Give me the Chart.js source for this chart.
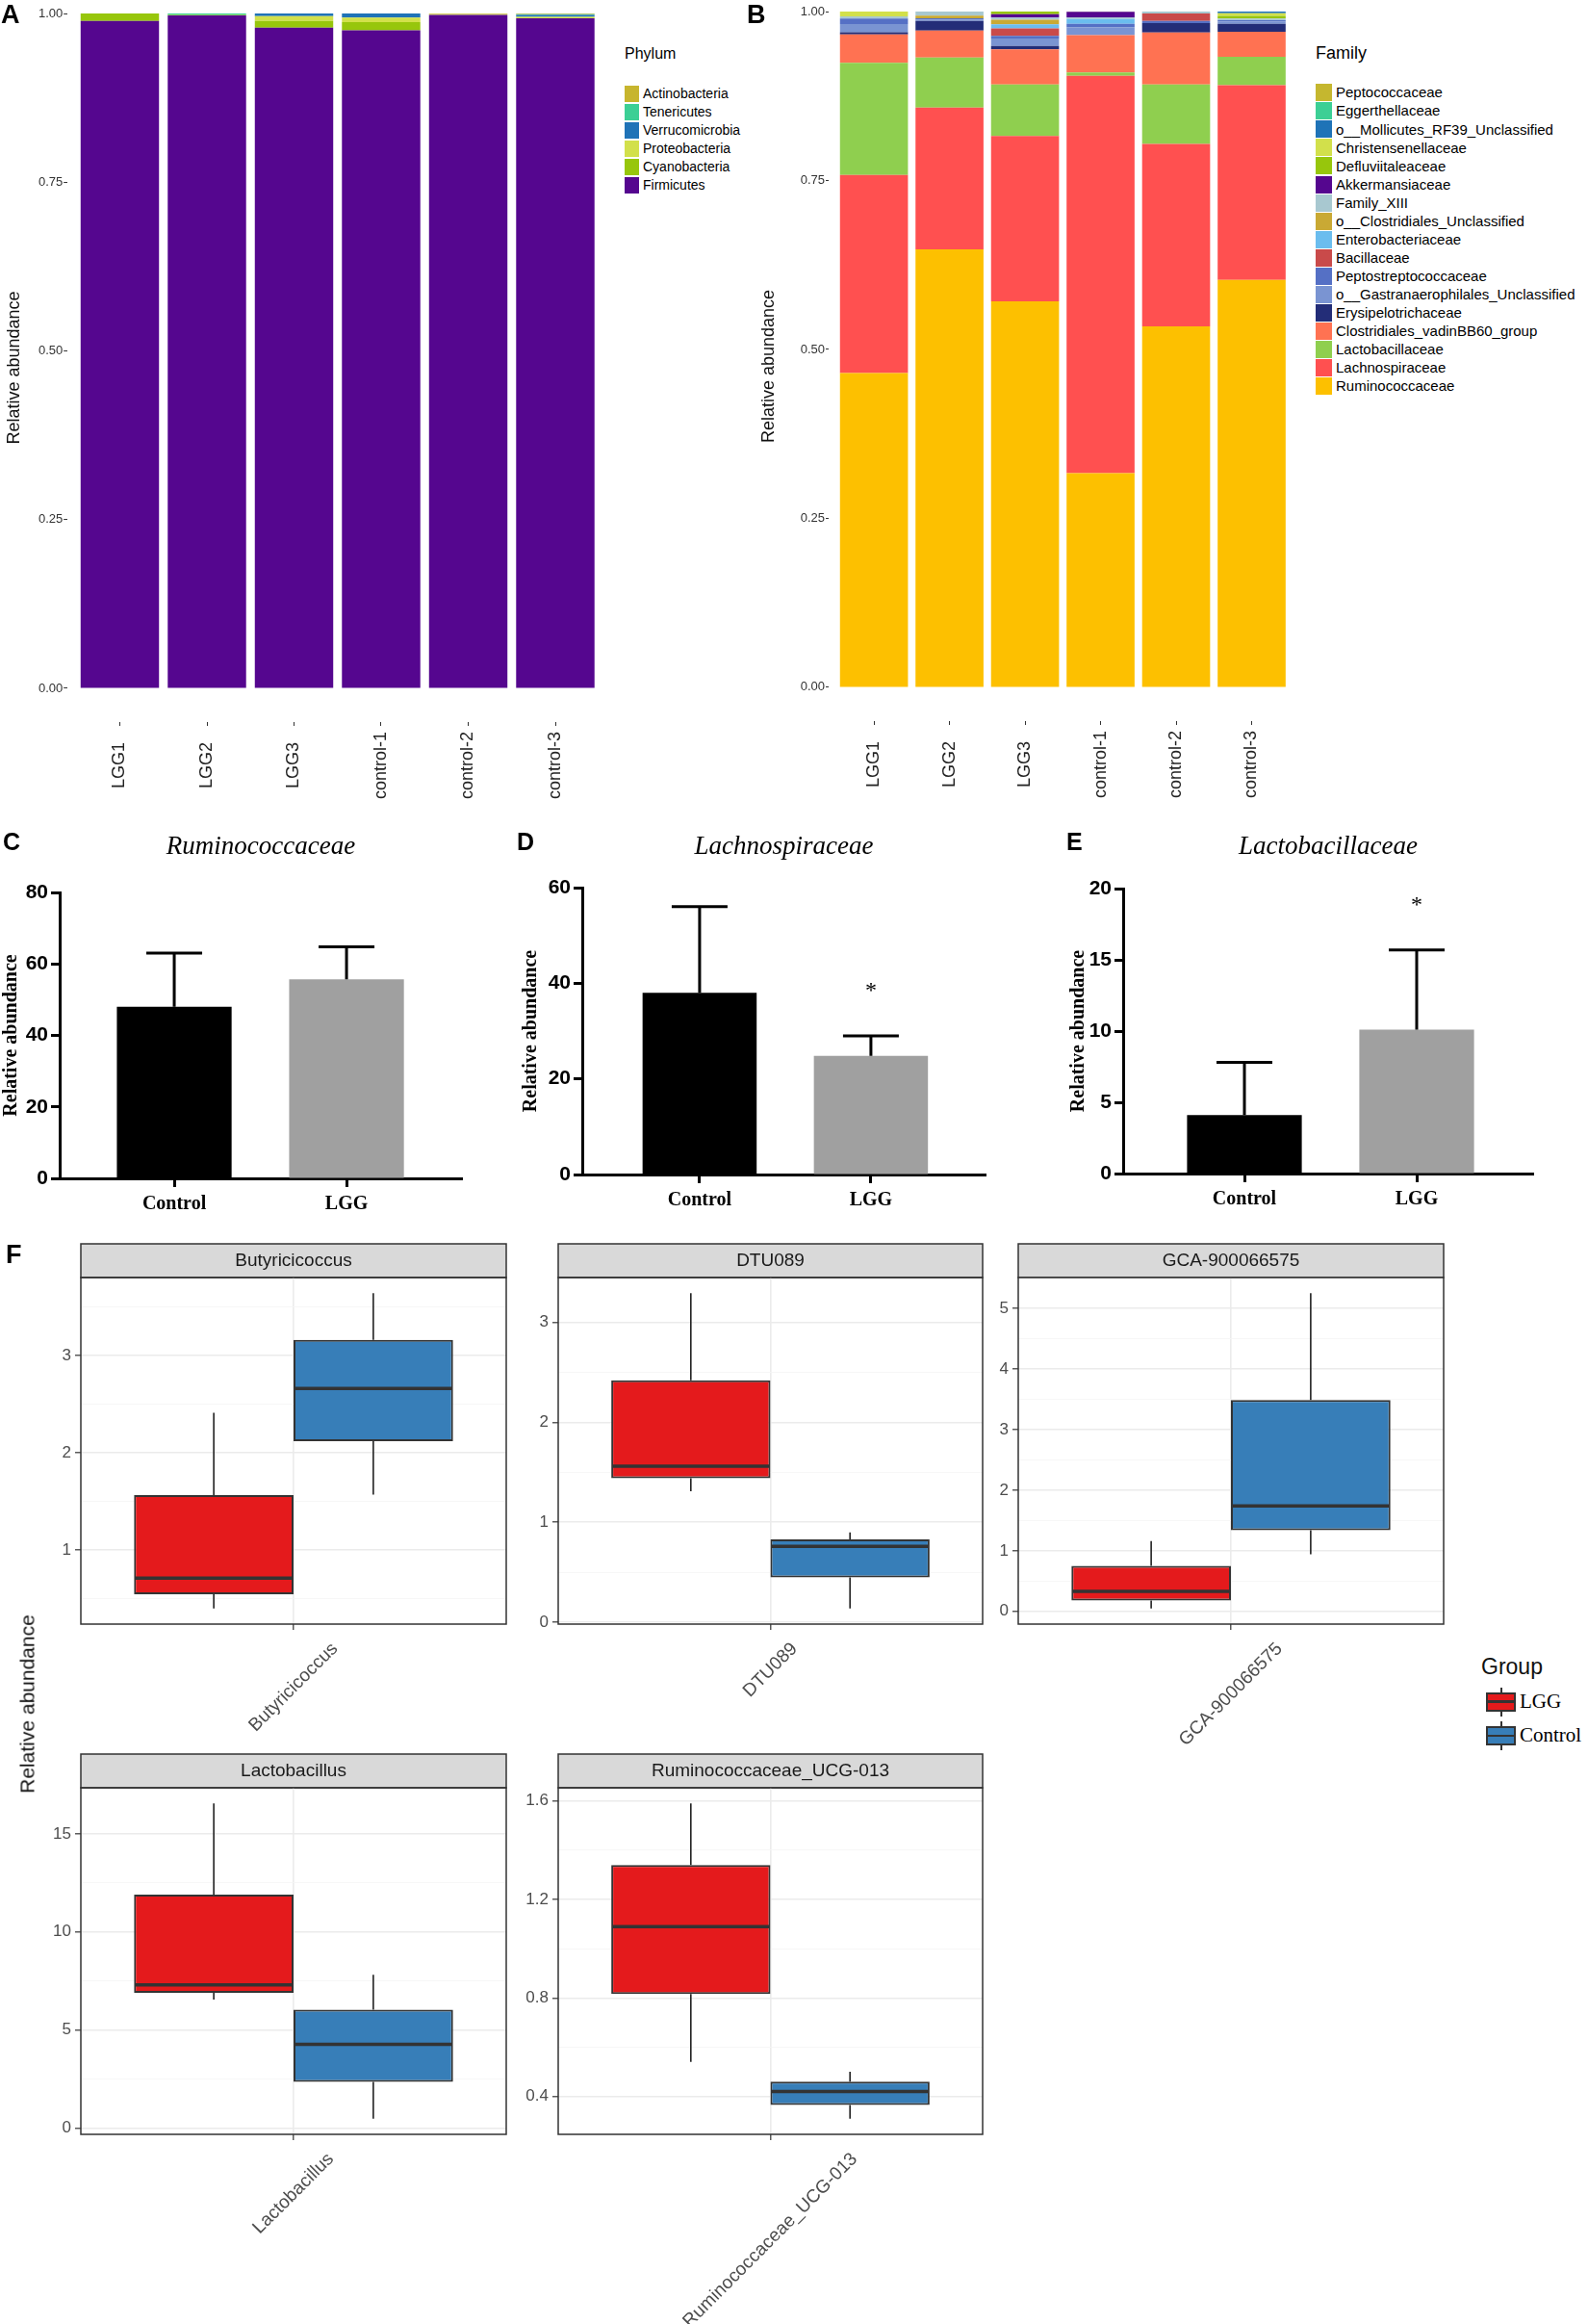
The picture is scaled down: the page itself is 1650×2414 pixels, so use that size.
<!DOCTYPE html>
<html>
<head>
<meta charset="utf-8">
<script src="https://cdn.jsdelivr.net/npm/chart.js@4.4.1/dist/chart.umd.min.js"></script>
<style>
html, body { margin: 0; padding: 0; background: #fff; }
body { width: 1650px; height: 2414px; position: relative; overflow: hidden; font-family: 'Liberation Sans', Arial, sans-serif; }
canvas { position: absolute; }
.t { position: absolute; white-space: nowrap; line-height: 1; color: #000; }
.b { position: absolute; box-sizing: border-box; }
</style>
</head>
<body>
<script>
// ---------- A: phylum composition ----------
const samples = ['LGG1', 'LGG2', 'LGG3', 'control-1', 'control-2', 'control-3'];
const abundTicks = [0, 0.25, 0.5, 0.75, 1];

// stack order bottom -> top
const phyla = ['Firmicutes', 'Cyanobacteria', 'Proteobacteria', 'Verrucomicrobia', 'Tenericutes', 'Actinobacteria'];
const phylumColors = ['#55068f', '#97c60c', '#d2e04b', '#1f73b7', '#3ccf95', '#c7b52e'];
const firmicutes      = [0.989, 0.997, 0.979, 0.975, 0.998, 0.993];
const cyanobacteria   = [0.011, 0.001, 0.010, 0.012, 0,     0];
const proteobacteria  = [0,     0,     0.007, 0.007, 0.001, 0.002];
const verrucomicrobia = [0,     0,     0.004, 0.006, 0,     0.003];
const tenericutes     = [0,     0.002, 0,     0,     0,     0.001];
const actinobacteria  = [0,     0,     0,     0,     0.001, 0.001];

// ---------- B: family composition ----------
const families = ['Ruminococcaceae', 'Lachnospiraceae', 'Lactobacillaceae', 'Clostridiales_vadinBB60_group',
  'Erysipelotrichaceae', 'o__Gastranaerophilales_Unclassified', 'Peptostreptococcaceae', 'Bacillaceae',
  'Enterobacteriaceae', 'o__Clostridiales_Unclassified', 'Family_XIII', 'Akkermansiaceae',
  'Defluviitaleaceae', 'Christensenellaceae', 'o__Mollicutes_RF39_Unclassified', 'Eggerthellaceae', 'Peptococcaceae'];
const familyColors = ['#fdc000', '#ff5050', '#8fcf4f', '#ff7252', '#232d78', '#7a94d2', '#5570c5', '#c94a4a',
  '#6bbdee', '#c9a934', '#a8c8d0', '#55068f', '#97c60c', '#d2e04b', '#1f73b7', '#3ccf95', '#c5b72f'];
const rumino     = [0.465, 0.648, 0.571, 0.317, 0.534, 0.603];
const lachno     = [0.293, 0.210, 0.245, 0.588, 0.270, 0.288];
const lacto      = [0.166, 0.074, 0.076, 0.005, 0.088, 0.042];
const vadin      = [0.042, 0.040, 0.052, 0.055, 0.077, 0.037];
const erysip     = [0.0035, 0.014, 0.005, 0,   0.014, 0.012];
const gastran    = [0.012, 0.002, 0.011, 0.012, 0,     0.003];
const peptostrep = [0.008, 0.002, 0.004, 0.005, 0.003, 0.002];
const bacill     = [0,     0,     0.011, 0,     0.011, 0];
const entero     = [0,     0,     0.006, 0.007, 0,     0];
const clostUncl  = [0,     0.004, 0.007, 0,     0,     0];
const famXIII    = [0.0035, 0.006, 0.003, 0.0025, 0.004, 0.0025];
const akker      = [0,     0,     0.005, 0.008, 0,     0];
const defluv     = [0,     0,     0.004, 0,     0,     0.004];
const christ     = [0.007, 0,     0.0015, 0.001, 0,    0.004];
const mollic     = [0,     0,     0,     0,     0,     0.003];
const egger      = [0,     0,     0,     0,     0,     0];
const peptococ   = [0,     0.001, 0,     0,     0,     0];

// ---------- C-E: mean + SD ----------
const groups = ['Control', 'LGG'];
const ruminoMean = [48, 55.7], ruminoSD = [15, 9.1];
const lachnoMean = [38, 24.8], lachnoSD = [18, 4.2];
const lactoMean  = [4.1, 10.1], lactoSD = [3.7, 5.6];
const lachnoSig = ['', '*'];
const lactoSig  = ['', '*'];

// ---------- F: boxplots [lower whisker, Q1, median, Q3, upper whisker] ----------
const genera = ['Butyricicoccus', 'DTU089', 'GCA-900066575', 'Lactobacillus', 'Ruminococcaceae_UCG-013'];
const lggBoxes = [
  [0.40, 0.545, 0.71, 1.565, 2.41],
  [1.31, 1.44, 1.56, 2.42, 3.29],
  [0.05, 0.18, 0.33, 0.75, 1.16],
  [6.55, 6.9, 7.3, 11.9, 16.55],
  [0.54, 0.816, 1.09, 1.34, 1.59]
];
const controlBoxes = [
  [1.57, 2.12, 2.66, 3.16, 3.64],
  [0.14, 0.45, 0.76, 0.83, 0.90],
  [0.94, 1.34, 1.74, 3.49, 5.25],
  [0.48, 2.35, 4.27, 6.04, 7.82],
  [0.31, 0.365, 0.42, 0.46, 0.50]
];
const generaTicks = [[1, 2, 3], [0, 1, 2, 3], [0, 1, 2, 3, 4, 5], [0, 5, 10, 15], [0.4, 0.8, 1.2, 1.6]];

const SANS = "'Liberation Sans', Arial, sans-serif";
const SERIF = "'Liberation Serif', 'Times New Roman', serif";
Chart.defaults.font.family = SANS;
Chart.defaults.animation = false;
Chart.defaults.events = [];
Chart.defaults.plugins.legend.display = false;
Chart.defaults.plugins.tooltip.enabled = false;

function makeCanvas(b) {
  const c = document.createElement('canvas');
  c.width = b.w; c.height = b.h;
  c.style.left = b.x + 'px'; c.style.top = b.y + 'px';
  c.style.width = b.w + 'px'; c.style.height = b.h + 'px';
  document.body.appendChild(c);
  return c;
}

function addText(str, x, baseline, size, opts) {
  opts = opts || {};
  const d = document.createElement('div');
  d.className = 't';
  d.textContent = str;
  d.style.left = x + 'px';
  d.style.top = (baseline - 0.8465 * size) + 'px';
  d.style.fontSize = size + 'px';
  if (opts.weight) d.style.fontWeight = opts.weight;
  if (opts.family) d.style.fontFamily = opts.family;
  if (opts.color) d.style.color = opts.color;
  document.body.appendChild(d);
  return d;
}

function addBox(x, y, w, h, color) {
  const d = document.createElement('div');
  d.className = 'b';
  d.style.left = x + 'px'; d.style.top = y + 'px';
  d.style.width = w + 'px'; d.style.height = h + 'px';
  d.style.background = color;
  document.body.appendChild(d);
  return d;
}

// rotated sample names under A and B
const sampleLabels = {
  id: 'sampleLabels',
  afterDraw(chart) {
    const {ctx, chartArea} = chart;
    const sx = chart.scales.x;
    ctx.save();
    ctx.font = '18px ' + SANS;
    ctx.fillStyle = '#222';
    ctx.textAlign = 'center';
    ctx.textBaseline = 'middle';
    samples.forEach((s, i) => {
      ctx.save();
      ctx.translate(sx.getPixelForValue(i + 1), chartArea.bottom + 45);
      ctx.rotate(-Math.PI / 2);
      ctx.fillText(s, 0, 0);
      ctx.restore();
    });
    ctx.restore();
  }
};

function stackedPanel(box, area, titlePad, tickLen, series, names, colors) {
  return new Chart(makeCanvas(box), {
    type: 'bar',
    data: {
      datasets: series.map((vals, k) => ({
        label: names[k],
        data: vals.map((v, i) => ({x: i + 1, y: v})),
        backgroundColor: colors[k],
        borderWidth: 0,
        barPercentage: 0.9,
        categoryPercentage: 1
      }))
    },
    options: {
      responsive: false,
      devicePixelRatio: 1,
      layout: {padding: {left: 0, top: area.t - box.y, right: box.x + box.w - area.r, bottom: 0}},
      scales: {
        x: {
          type: 'linear', min: 0.4, max: 6.6, stacked: true, offset: false,
          afterBuildTicks: s => { s.ticks = samples.map((_, i) => ({value: i + 1})); },
          afterFit: s => { s.height = box.y + box.h - area.b; },
          ticks: {display: false},
          grid: {offset: false, drawOnChartArea: false, tickLength: 4, tickColor: '#333', tickWidth: 1},
          border: {display: false}
        },
        y: {
          stacked: true, min: -0.05, max: 1,
          afterBuildTicks: s => { s.ticks = abundTicks.map(v => ({value: v})); },
          afterFit: s => { s.width = area.l - box.x; },
          ticks: {callback: v => v.toFixed(2), font: {size: 13}, color: '#333', padding: 1},
          grid: {drawOnChartArea: false, tickLength: tickLen, tickColor: '#333', tickWidth: 1},
          border: {display: false},
          title: {display: true, text: 'Relative abundance', font: {size: 18}, color: '#111',
                  padding: {top: titlePad, bottom: 0}}
        }
      }
    },
    plugins: [sampleLabels]
  });
}

stackedPanel({x: 0, y: 0, w: 645, h: 850}, {l: 70.2, t: 14, r: 631.3, b: 750}, 4, 4,
  [firmicutes, cyanobacteria, proteobacteria, verrucomicrobia, tenericutes, actinobacteria], phyla, phylumColors);

stackedPanel({x: 780, y: 0, w: 580, h: 850}, {l: 861, t: 12, r: 1347.6, b: 749}, 8, 3,
  [rumino, lachno, lacto, vadin, erysip, gastran, peptostrep, bacill, entero, clostUncl, famXIII,
   akker, defluv, christ, mollic, egger, peptococ], families, familyColors);

// legends A and B
addText('Phylum', 649, 61.5, 16);
phyla.slice().reverse().forEach((p, i) => {
  const cy = 97.3 + 19 * i;
  addBox(649, cy - 8, 15, 17, phylumColors[phyla.length - 1 - i]);
  addText(p, 668, cy + 5, 14);
});
addText('Family', 1367, 61, 18);
families.slice().reverse().forEach((f, i) => {
  const cy = 95.7 + 19.06 * i;
  addBox(1367, cy - 8.5, 17, 18, familyColors[families.length - 1 - i]);
  addText(f, 1388, cy + 5.4, 15);
});

// ---------- C-E ----------
function errorBars(means, sds, sig) {
  return {
    id: 'errorBars',
    afterDatasetsDraw(chart) {
      const {ctx} = chart;
      const ys = chart.scales.y;
      ctx.save();
      ctx.strokeStyle = '#000';
      ctx.lineWidth = 3;
      chart.getDatasetMeta(0).data.forEach((bar, i) => {
        const yb = ys.getPixelForValue(means[i]);
        const yt = ys.getPixelForValue(means[i] + sds[i]);
        ctx.beginPath();
        ctx.moveTo(bar.x, yb); ctx.lineTo(bar.x, yt);
        ctx.moveTo(bar.x - 29, yt); ctx.lineTo(bar.x + 29, yt);
        ctx.stroke();
        if (sig && sig[i]) {
          ctx.font = '24px ' + SERIF;
          ctx.fillStyle = '#000';
          ctx.textAlign = 'center';
          ctx.textBaseline = 'alphabetic';
          ctx.fillText(sig[i], bar.x, yt - 40);
        }
      });
      ctx.restore();
    }
  };
}

function meanPanel(box, area, title, yMax, yStep, xr, titleX, means, sds, sig) {
  return new Chart(makeCanvas(box), {
    type: 'bar',
    data: {
      datasets: [{
        data: means.map((m, i) => ({x: i + 1, y: m})),
        backgroundColor: ['#000000', '#a0a0a0'],
        borderWidth: 0,
        categoryPercentage: 0.74,
        barPercentage: 0.9
      }]
    },
    options: {
      responsive: false,
      devicePixelRatio: 1,
      layout: {padding: {left: 0, top: 0, right: box.x + box.w - area.r, bottom: 0}},
      plugins: {
        title: {display: true, text: title, fullSize: false, color: '#000',
                font: {family: SERIF, size: 27, style: 'italic', weight: 'normal'},
                padding: {top: 13.8, bottom: area.t - box.y - 13.8 - 32.4}}
      },
      scales: {
        x: {
          type: 'linear', min: xr[0], max: xr[1], offset: false,
          afterBuildTicks: s => { s.ticks = groups.map((_, i) => ({value: i + 1})); },
          afterFit: s => { s.height = box.y + box.h - area.b; },
          ticks: {callback: v => groups[v - 1], font: {family: SERIF, size: 20, weight: 'bold'},
                  color: '#000', padding: 6, maxRotation: 0, minRotation: 0, autoSkip: false},
          grid: {offset: false, drawOnChartArea: false, tickLength: 9, tickWidth: 3, tickColor: '#000'},
          border: {width: 3, color: '#000'}
        },
        y: {
          min: 0, max: yMax,
          afterFit: s => { s.width = area.l - box.x; },
          ticks: {stepSize: yStep, font: {size: 21, weight: 'bold'}, color: '#000', padding: 3},
          grid: {drawOnChartArea: false, tickLength: 9, tickWidth: 3, tickColor: '#000'},
          border: {width: 3, color: '#000'},
          title: {display: true, text: 'Relative abundance', color: '#000',
                  font: {family: SERIF, size: 20, weight: 'bold'},
                  padding: {top: Math.max(0, titleX - box.x - 12), bottom: 0}}
        }
      }
    },
    plugins: [errorBars(means, sds, sig)]
  });
}

meanPanel({x: 0, y: 850, w: 540, h: 420}, {l: 62, t: 927, r: 480, b: 1224}, 'Ruminococcaceae',
  80, 20, [0.335, 2.67], 11, ruminoMean, ruminoSD, null);
meanPanel({x: 520, y: 850, w: 590, h: 420}, {l: 605, t: 922, r: 1024, b: 1220}, 'Lachnospiraceae',
  60, 20, [0.315, 2.669], 552, lachnoMean, lachnoSD, lachnoSig);
meanPanel({x: 1100, y: 850, w: 566, h: 420}, {l: 1167, t: 923, r: 1593, b: 1219}, 'Lactobacillaceae',
  20, 5, [0.296, 2.676], 1121, lactoMean, lactoSD, lactoSig);

// ---------- F ----------
const facetFrame = {
  id: 'facetFrame',
  beforeDraw(chart) {
    const t = chart.titleBlock;
    const {ctx} = chart;
    ctx.save();
    ctx.fillStyle = '#d9d9d9';
    ctx.fillRect(t.left, t.top, t.width, t.height);
    ctx.strokeStyle = '#333';
    ctx.lineWidth = 1.5;
    ctx.strokeRect(t.left, t.top, t.width, t.height);
    ctx.restore();
  },
  afterDraw(chart) {
    const {ctx, chartArea: a} = chart;
    ctx.save();
    ctx.strokeStyle = '#333';
    ctx.lineWidth = 1.5;
    ctx.strokeRect(a.left, a.top, a.right - a.left, a.bottom - a.top);
    ctx.restore();
  }
};

function boxMarks(k) {
  const stats = [lggBoxes[k], controlBoxes[k]];
  return {
    id: 'boxMarks',
    beforeDatasetsDraw(chart) {
      const {ctx} = chart, ys = chart.scales.y;
      ctx.save();
      ctx.strokeStyle = '#222';
      ctx.lineWidth = 1.6;
      stats.forEach((s, d) => {
        const el = chart.getDatasetMeta(d).data[0];
        ctx.beginPath();
        ctx.moveTo(el.x, ys.getPixelForValue(s[3])); ctx.lineTo(el.x, ys.getPixelForValue(s[4]));
        ctx.moveTo(el.x, ys.getPixelForValue(s[1])); ctx.lineTo(el.x, ys.getPixelForValue(s[0]));
        ctx.stroke();
      });
      ctx.restore();
    },
    afterDatasetsDraw(chart) {
      const {ctx} = chart, ys = chart.scales.y;
      ctx.save();
      ctx.strokeStyle = '#333';
      ctx.lineWidth = 3.5;
      stats.forEach((s, d) => {
        const el = chart.getDatasetMeta(d).data[0];
        const y = ys.getPixelForValue(s[2]);
        ctx.beginPath();
        ctx.moveTo(el.x - el.width / 2 + 1, y); ctx.lineTo(el.x + el.width / 2 - 1, y);
        ctx.stroke();
      });
      ctx.restore();
    },
    afterDraw(chart) {
      const {ctx, chartArea} = chart;
      const size = 19;
      ctx.save();
      ctx.font = size + 'px ' + SANS;
      ctx.fillStyle = '#4d4d4d';
      ctx.textAlign = 'center';
      ctx.textBaseline = 'middle';
      const w = ctx.measureText(genera[k]).width;
      const ext = (w + size) * Math.SQRT1_2;
      ctx.translate(chart.scales.x.getPixelForValue(0), chartArea.bottom + 16 + ext / 2);
      ctx.rotate(-Math.PI / 4);
      ctx.fillText(genera[k], 0, 0);
      ctx.restore();
    }
  };
}

function boxPanel(k, box, area) {
  const lo = Math.min(lggBoxes[k][0], controlBoxes[k][0]);
  const hi = Math.max(lggBoxes[k][4], controlBoxes[k][4]);
  const ex = (hi - lo) * 0.05;
  const majors = generaTicks[k];
  const step = majors[1] - majors[0];
  const all = [majors[0] - step / 2];
  majors.forEach(v => { all.push(v); all.push(v + step / 2); });
  const tickList = all.filter(v => v >= lo - ex && v <= hi + ex);
  const isMajor = v => majors.includes(v);
  return new Chart(makeCanvas(box), {
    type: 'bar',
    data: {
      labels: [genera[k]],
      datasets: [
        {label: 'LGG', data: [[lggBoxes[k][1], lggBoxes[k][3]]], backgroundColor: '#e41a1c'},
        {label: 'Control', data: [[controlBoxes[k][1], controlBoxes[k][3]]], backgroundColor: '#377eb8'}
      ]
    },
    options: {
      responsive: false,
      devicePixelRatio: 1,
      datasets: {bar: {borderColor: '#333', borderWidth: 2, borderSkipped: false,
                       categoryPercentage: 0.75, barPercentage: 1}},
      layout: {padding: {left: 0, top: area.t - 35 - box.y, right: box.x + box.w - area.r, bottom: 0}},
      plugins: {
        title: {display: true, text: genera[k], fullSize: false, color: '#1a1a1a',
                font: {size: 19, weight: 'normal'}, padding: {top: 6.1, bottom: 6.1}}
      },
      scales: {
        x: {
          afterFit: s => { s.height = box.y + box.h - area.b; },
          ticks: {display: false},
          grid: {offset: false, color: '#ebebeb', lineWidth: 1.6, tickColor: '#333', tickLength: 6, tickWidth: 1.2},
          border: {display: false}
        },
        y: {
          min: lo - ex, max: hi + ex,
          afterBuildTicks: s => { s.ticks = tickList.map(v => ({value: v})); },
          afterFit: s => { s.width = area.l - box.x; },
          ticks: {callback: v => isMajor(v) ? String(v) : '', font: {size: 17}, color: '#4d4d4d', padding: 4},
          grid: {
            color: c => isMajor(c.tick.value) ? '#ebebeb' : '#f5f5f5',
            lineWidth: c => isMajor(c.tick.value) ? 1.6 : 0.8,
            tickColor: c => isMajor(c.tick.value) ? '#333' : 'rgba(0,0,0,0)',
            tickLength: 6, tickWidth: 1.2
          },
          border: {display: false}
        }
      }
    },
    plugins: [facetFrame, boxMarks(k)]
  });
}

boxPanel(0, {x: 30, y: 1280, w: 530, h: 550}, {l: 84, t: 1327, r: 526, b: 1687});
boxPanel(1, {x: 525, y: 1280, w: 530, h: 550}, {l: 580, t: 1327, r: 1021, b: 1687});
boxPanel(2, {x: 1000, y: 1280, w: 530, h: 550}, {l: 1058, t: 1327, r: 1500, b: 1687});
boxPanel(3, {x: 30, y: 1810, w: 530, h: 604}, {l: 84, t: 1857, r: 526, b: 2217});
boxPanel(4, {x: 525, y: 1810, w: 530, h: 604}, {l: 580, t: 1857, r: 1021, b: 2217});

// F shared axis title
const fTitle = addText('Relative abundance', 28, 0, 21, {color: '#111'});
fTitle.style.top = '1770px';
fTitle.style.transform = 'translate(-50%, -50%) rotate(-90deg)';

// Group legend
addText('Group', 1539, 1739, 23, {color: '#111'});
function groupKey(x, cy, color, name) {
  addBox(x + 14.5, cy - 15, 2, 30, '#333');
  const b = addBox(x, cy - 10, 31, 20, color);
  b.style.border = '2px solid #333';
  addBox(x + 2, cy - 1.25, 27, 2.5, '#333');
  addText(name, x + 35, cy + 7, 21, {family: SERIF});
}
groupKey(1544, 1767.5, '#e41a1c', 'LGG');
groupKey(1544, 1803, '#377eb8', 'Control');

// panel letters
addText('A', 1, 25, 27, {weight: 'bold'});
addText('B', 776, 25, 27, {weight: 'bold'});
addText('C', 3, 883, 25, {weight: 'bold'});
addText('D', 537, 883, 25, {weight: 'bold'});
addText('E', 1108, 883, 25, {weight: 'bold'});
addText('F', 6, 1313, 27, {weight: 'bold'});
</script>
</body>
</html>
